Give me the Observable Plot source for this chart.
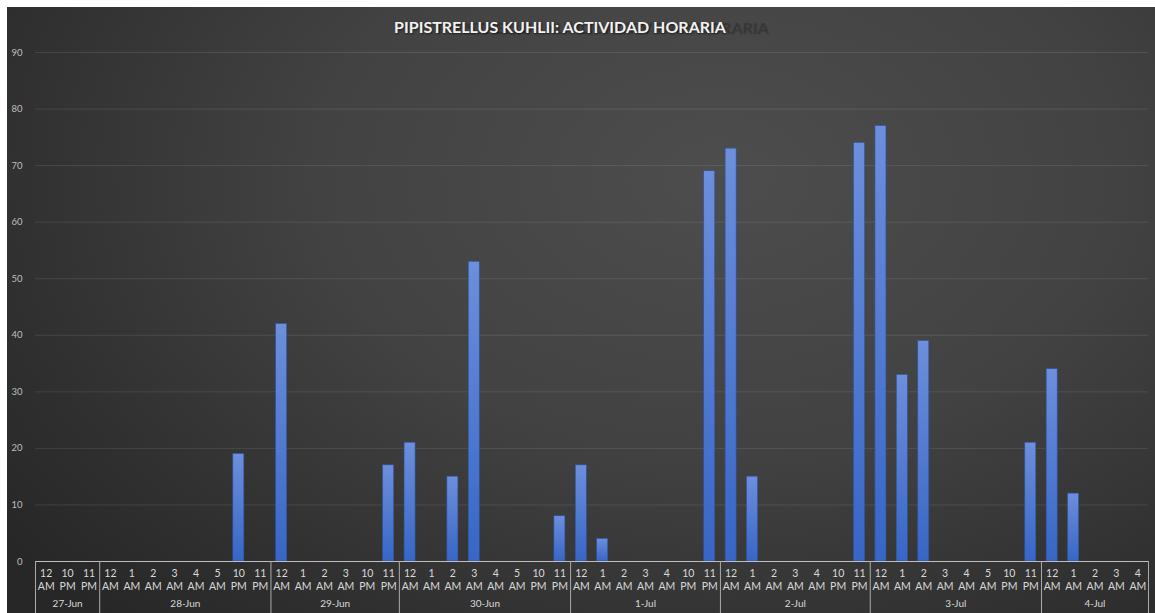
<!DOCTYPE html>
<html>
<head>
<meta charset="utf-8">
<script src="https://cdn.jsdelivr.net/npm/d3@7"></script>
<script src="https://cdn.jsdelivr.net/npm/@observablehq/plot@0.6"></script>
<style>
  html, body { margin: 0; padding: 0; background: #ffffff; }
  #wrap {
    position: absolute; left: 7px; top: 7px; width: 1148px; height: 606px; overflow: hidden;
    background: radial-gradient(ellipse 78% 100% at 62% 28%, #4d4d4d 0%, #424242 45%, #303030 80%, #272727 100%);
    font-family: Lato, "Open Sans", sans-serif;
  }
  #title {
    height: 33px; line-height: 40px; text-align: center; padding-right: 42px;
    color: #f2f2f2; font-weight: bold; font-size: 16px; white-space: nowrap;
    text-shadow: 1px 1px 2px rgba(0,0,0,0.55), 43px 1px 1px rgba(0,0,0,0.25);
  }
  #chart svg { display: block; }
</style>
</head>
<body>
<div id="wrap">
  <div id="title">PIPISTRELLUS KUHLII: ACTIVIDAD HORARIA</div>
  <div id="chart"></div>
</div>
<script>
// ---- data ----
const dates = ["27-Jun", "28-Jun", "29-Jun", "30-Jun", "1-Jul", "2-Jul", "3-Jul", "4-Jul"];
const hourLabels = [
  ["12 AM", "10 PM", "11 PM"],
  ["12 AM", "1 AM", "2 AM", "3 AM", "4 AM", "5 AM", "10 PM", "11 PM"],
  ["12 AM", "1 AM", "2 AM", "3 AM", "10 PM", "11 PM"],
  ["12 AM", "1 AM", "2 AM", "3 AM", "4 AM", "5 AM", "10 PM", "11 PM"],
  ["12 AM", "1 AM", "2 AM", "3 AM", "4 AM", "10 PM", "11 PM"],
  ["12 AM", "1 AM", "2 AM", "3 AM", "4 AM", "10 PM", "11 PM"],
  ["12 AM", "1 AM", "2 AM", "3 AM", "4 AM", "5 AM", "10 PM", "11 PM"],
  ["12 AM", "1 AM", "2 AM", "3 AM", "4 AM"]
];
const counts = [
  [0, 0, 0],
  [0, 0, 0, 0, 0, 0, 19, 0],
  [42, 0, 0, 0, 0, 17],
  [21, 0, 15, 53, 0, 0, 0, 8],
  [17, 4, 0, 0, 0, 0, 69],
  [73, 15, 0, 0, 0, 0, 74],
  [77, 33, 39, 0, 0, 0, 0, 21],
  [34, 12, 0, 0, 0]
];
const yTicks = [0, 10, 20, 30, 40, 50, 60, 70, 80, 90];

// ---- table built from the arrays ----
const rows = [];
const groups = [];
let idx = 0;
dates.forEach((d, g) => {
  const start = idx;
  hourLabels[g].forEach((h, k) => {
    rows.push({i: idx, date: d, hour: h, label: h.replace(" ", "\n"), value: counts[g][k]});
    idx++;
  });
  groups.push({date: d, start, end: idx, mid: (start + idx) / 2});
});
const n = idx;
const bounds = [0, ...groups.map(g => g.end)];

const defsMark = () => {
  const g = d3.create("svg:g");
  const lg = g.append("defs").append("linearGradient")
    .attr("id", "barGrad").attr("x1", 0).attr("y1", 0).attr("x2", 0).attr("y2", 1);
  lg.append("stop").attr("offset", "0%").attr("stop-color", "#6d8fdc");
  lg.append("stop").attr("offset", "100%").attr("stop-color", "#3766c6");
  return g.node();
};

const chart = Plot.plot({
  width: 1148,
  height: 573,
  marginTop: 12,
  marginBottom: 52,
  marginLeft: 28,
  marginRight: 7,
  style: {background: "transparent", fontFamily: "Lato, 'Open Sans', sans-serif", overflow: "visible"},
  x: {domain: [0, n], axis: null},
  y: {domain: [0, 90], axis: null},
  marks: [
    defsMark,
    Plot.gridY(yTicks, {stroke: "#ffffff", strokeOpacity: 0.1}),
    Plot.axisY(yTicks, {tickSize: 0, tickPadding: 13, fontSize: 9.5, color: "#bfbfbf", label: null}),
    Plot.rectY(rows.filter(r => r.value > 0), {
      x1: "i", x2: d => d.i + 1, y: "value",
      insetLeft: 5.2, insetRight: 5.2,
      fill: "url(#barGrad)", stroke: "#2d55a8", strokeWidth: 0.6
    }),
    Plot.ruleY([0], {stroke: "#bfbfbf", strokeWidth: 1}),
    Plot.ruleX(bounds, {x: d => d, y1: () => 0, y2: () => 0, insetBottom: -52, stroke: "#ababab", strokeWidth: 1}),
    Plot.text(rows, {
      x: d => d.i + 0.5, text: "label", frameAnchor: "bottom", lineAnchor: "top",
      dy: 7, lineHeight: 1.2, fontSize: 10.5, fill: "#d9d9d9"
    }),
    Plot.text(groups, {
      x: "mid", text: "date", frameAnchor: "bottom", dy: 45, fontSize: 10, fill: "#d9d9d9"
    })
  ]
});
document.getElementById("chart").appendChild(chart);
</script>
</body>
</html>
